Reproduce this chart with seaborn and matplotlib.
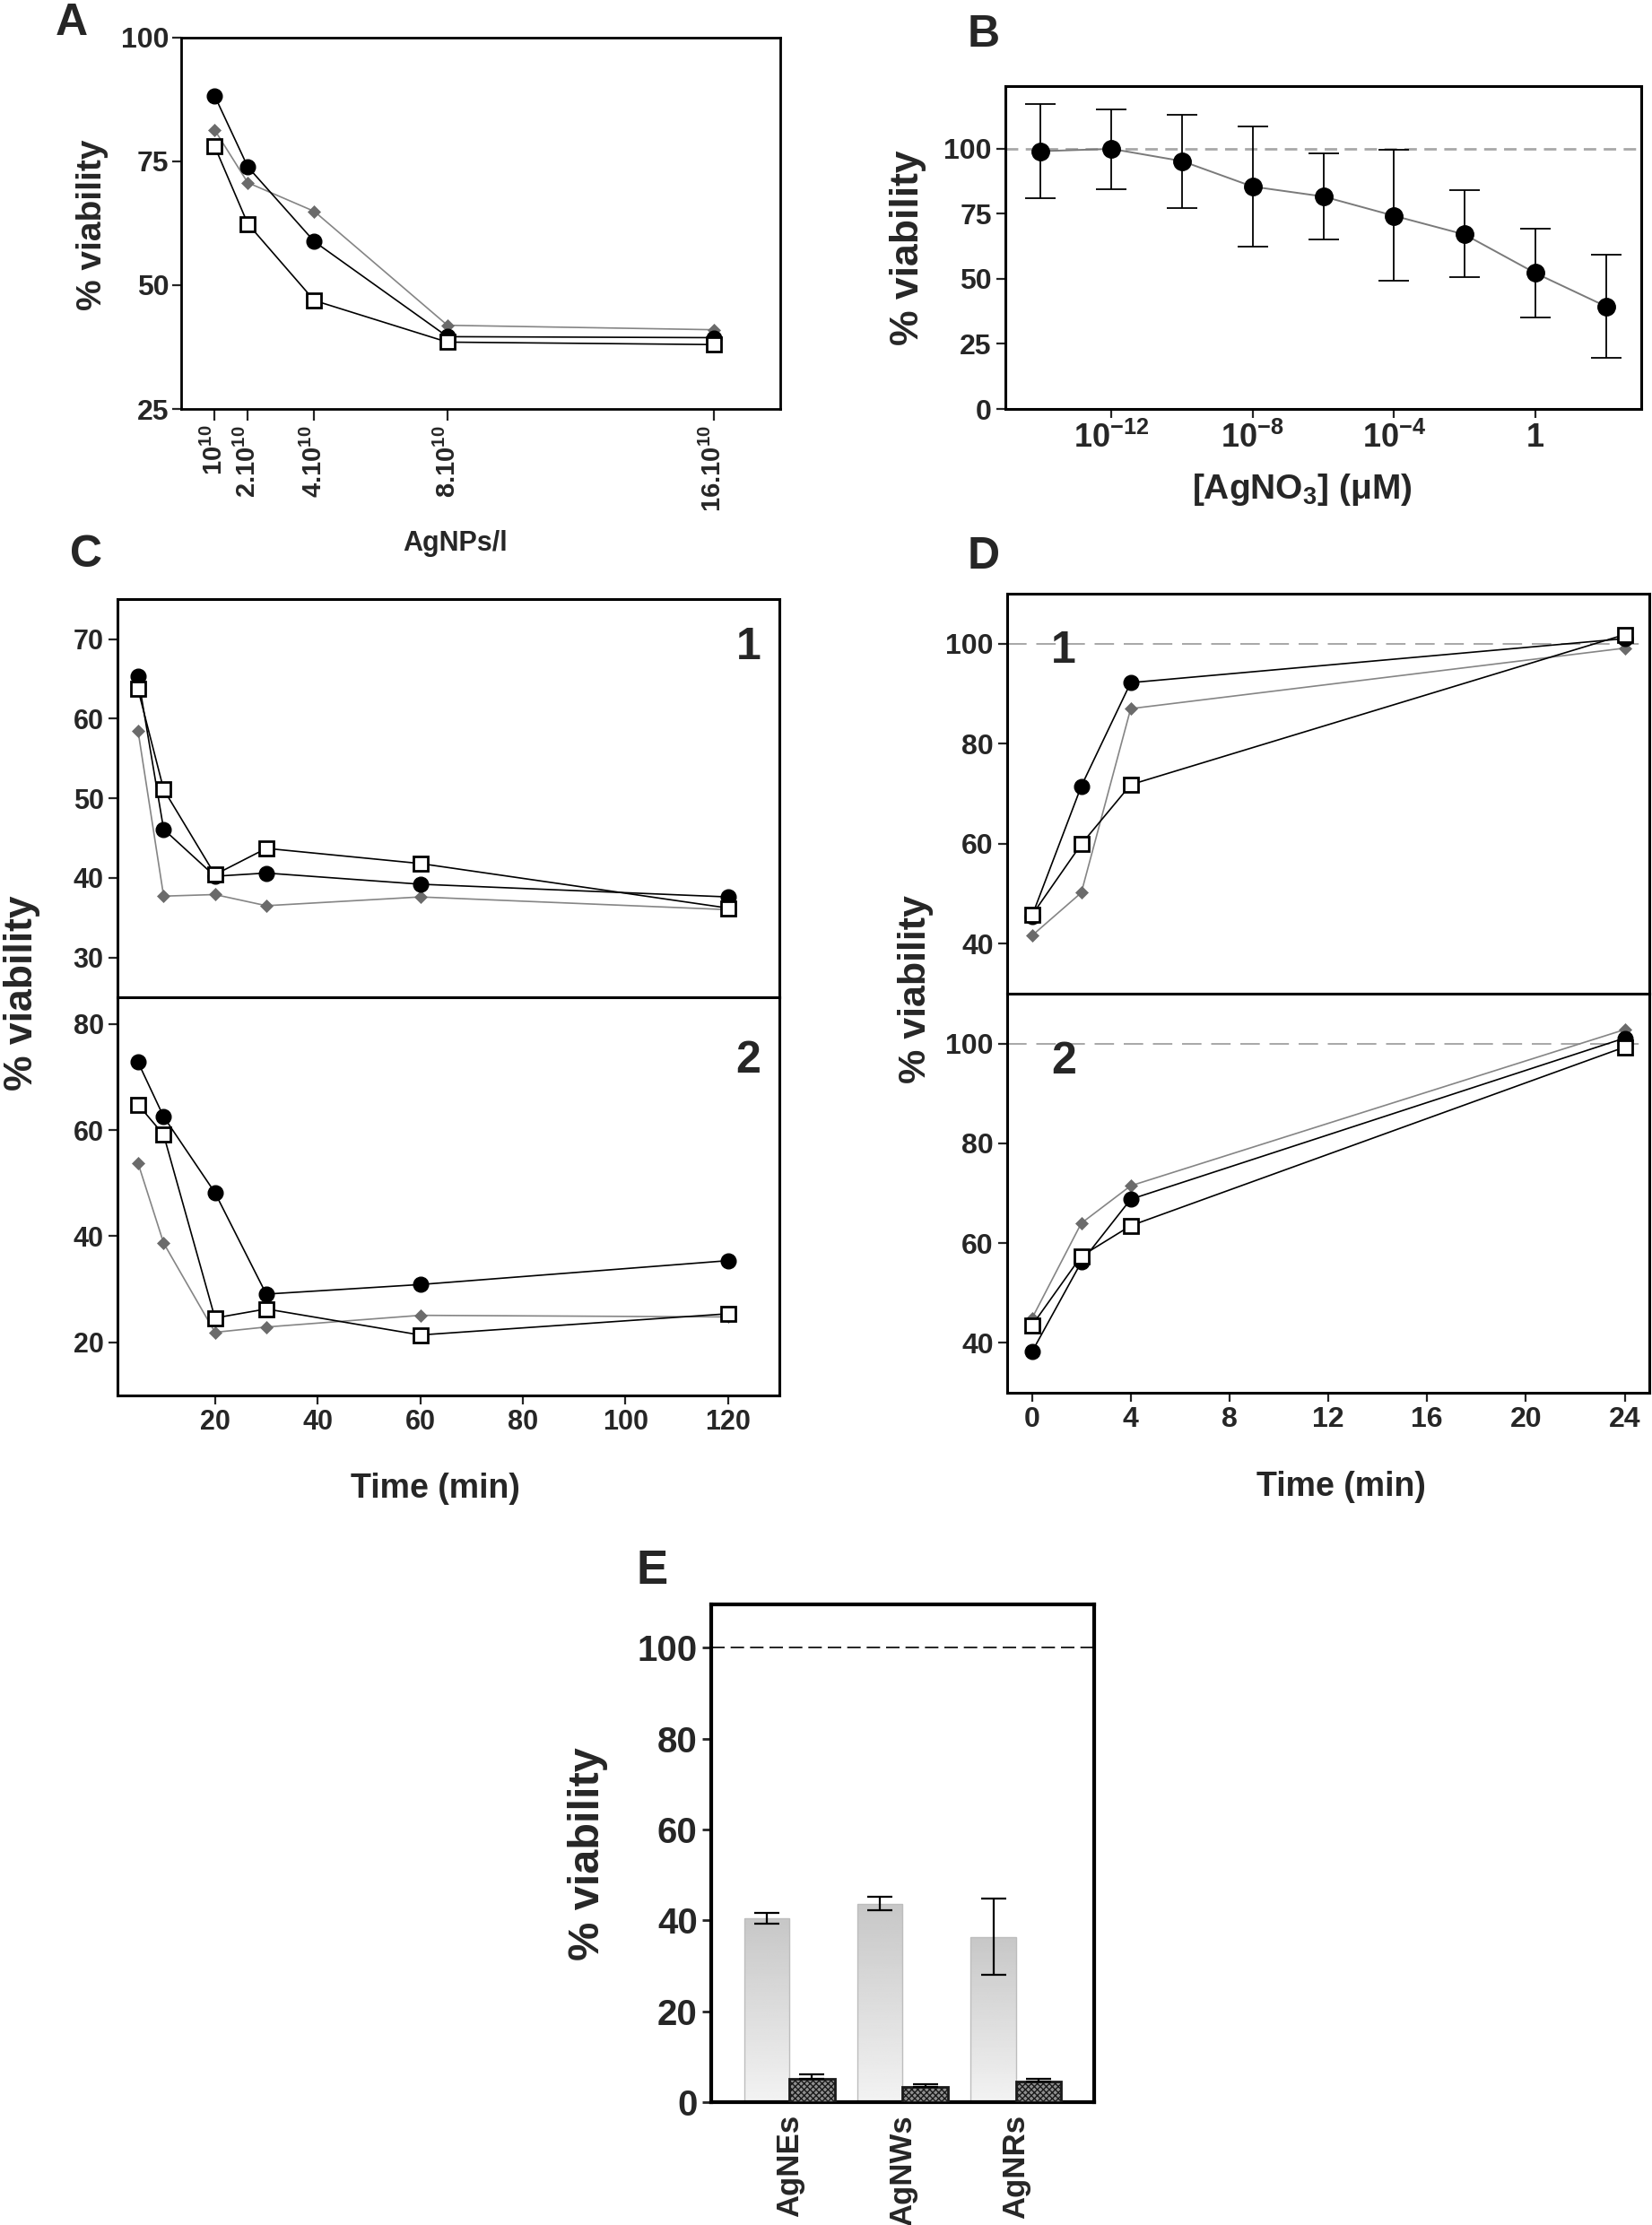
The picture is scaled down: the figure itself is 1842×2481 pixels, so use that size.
import numpy as np
import pandas as pd
import seaborn as sns
import matplotlib
matplotlib.use('Agg')
import matplotlib.pyplot as plt
from matplotlib import font_manager

sns.set_theme(style='ticks')
fams = {f.name for f in font_manager.fontManager.ttflist}
NARROW = 'Liberation Sans Narrow' if 'Liberation Sans Narrow' in fams else 'Liberation Sans'
plt.rcParams['font.family'] = ['Liberation Sans', 'DejaVu Sans']
plt.rcParams['mathtext.fontset'] = 'custom'
plt.rcParams['mathtext.rm'] = NARROW
plt.rcParams['mathtext.bf'] = NARROW + ':bold'
plt.rcParams['hatch.linewidth'] = 1.0

# ---- data A (AgNPs/l) ----
a_conc = [1, 2, 4, 8, 16]
a_labels = [r'$\mathbf{10^{10}}$', r'$\mathbf{2.10^{10}}$', r'$\mathbf{4.10^{10}}$',
            r'$\mathbf{8.10^{10}}$', r'$\mathbf{16.10^{10}}$']
a_circle = [88.3, 73.9, 58.8, 39.6, 39.4]
a_diamond = [81.4, 70.7, 64.9, 41.9, 41.0]
a_square = [78.1, 62.4, 46.9, 38.5, 38.0]

# ---- data B (AgNO3) ----
b_conc = [1e-14, 1e-12, 1e-10, 1e-8, 1e-6, 1e-4, 1e-2, 1e0, 1e2]
b_mean = [99.0, 99.9, 95.2, 85.4, 81.6, 74.2, 67.0, 52.2, 39.4]
b_low = [81.0, 84.5, 77.3, 62.3, 65.0, 49.4, 50.6, 35.3, 19.7]
b_high = [117.2, 114.9, 112.9, 108.5, 98.0, 99.4, 84.1, 69.1, 59.1]
b_ticks = [1e-12, 1e-8, 1e-4, 1]
b_ticklabels = [r'$\mathbf{10^{-12}}$', r'$\mathbf{10^{-8}}$', r'$\mathbf{10^{-4}}$', r'$\mathbf{1}$']

# ---- data C (time, min) ----
c_time = [5, 10, 20, 30, 60, 120]
c1_circle = [65.3, 46.1, 40.2, 40.6, 39.2, 37.6]
c1_square = [63.7, 51.1, 40.4, 43.7, 41.8, 36.2]
c1_diamond = [58.5, 37.7, 37.9, 36.5, 37.6, 36.0]
c2_circle = [72.8, 62.5, 48.2, 29.1, 30.9, 35.4]
c2_square = [64.8, 59.1, 24.6, 26.3, 21.4, 25.4]
c2_diamond = [53.8, 38.7, 21.9, 22.9, 25.1, 24.8]

# ---- data D (time) ----
d_time = [0, 2, 4, 24]
d1_circle = [45.5, 71.5, 92.2, 101.0]
d1_square = [45.7, 59.9, 71.8, 101.8]
d1_diamond = [41.6, 50.2, 87.0, 99.1]
d2_circle = [38.2, 56.2, 68.8, 101.1]
d2_square = [43.5, 57.4, 63.5, 99.3]
d2_diamond = [44.9, 64.0, 71.5, 102.8]

# ---- data E (bars) ----
e_cats = ['AgNEs', 'AgNWs', 'AgNRs']
e_light = [40.5, 43.7, 36.4]
e_light_err = [1.2, 1.5, 8.4]
e_dark = [5.2, 3.3, 4.5]
e_dark_err = [1.0, 0.6, 0.7]

styles = {
    'diamond': dict(marker='D', color='#858585', markerfacecolor='#6b6b6b',
                    markeredgecolor='#6b6b6b', markersize=7, markeredgewidth=0.5),
    'circle': dict(marker='o', color='black', markerfacecolor='black',
                   markeredgecolor='black', markersize=12, markeredgewidth=1),
    'square': dict(marker='s', color='black', markerfacecolor='white',
                   markeredgecolor='black', markersize=11, markeredgewidth=2),
}


def draw(ax, x, y, kind):
    sns.lineplot(x=x, y=y, ax=ax, linewidth=1.2, estimator=None, **styles[kind])


def boxify(ax, lw=2.2):
    for s in ax.spines.values():
        s.set_visible(True)
        s.set_linewidth(lw)
        s.set_color('black')


def bold_ticks(ax, size, family='Liberation Sans'):
    for lab in ax.get_xticklabels() + ax.get_yticklabels():
        lab.set_fontsize(size)
        lab.set_fontweight('bold')
        lab.set_family(family)


fig = plt.figure(figsize=(18.42, 24.81), dpi=100)

# ---------------- A ----------------
axA = fig.add_axes([0.1097, 0.8162, 0.3626, 0.1669])
draw(axA, a_conc, a_diamond, 'diamond')
draw(axA, a_conc, a_circle, 'circle')
draw(axA, a_conc, a_square, 'square')
axA.set_xlim(0, 18)
axA.set_ylim(25, 100)
axA.set_yticks([25, 50, 75, 100])
axA.set_xticks(a_conc)
axA.set_xticklabels(a_labels, rotation=90, fontsize=21)
axA.set_xlabel('')
axA.set_ylabel('')
boxify(axA, 2.0)
axA.tick_params(axis='y', direction='out', length=7, width=1.6, pad=3)
axA.tick_params(axis='x', direction='out', length=9, width=1.6, pad=4)
for lab in axA.get_yticklabels():
    lab.set_fontsize(23); lab.set_fontweight('bold'); lab.set_family(NARROW)

# ---------------- B ----------------
axB = fig.add_axes([0.6086, 0.8162, 0.3849, 0.1451])
axB.axhline(100, color='#a8a8a8', lw=2.0, ls=(0, (5, 3)), zorder=1)
sns.lineplot(x=b_conc, y=b_mean, ax=axB, color='#7a7a7a', linewidth=1.4, estimator=None, zorder=2)
b_err = [np.array(b_mean) - np.array(b_low), np.array(b_high) - np.array(b_mean)]
axB.errorbar(b_conc, b_mean, yerr=b_err, fmt='o', color='black', ms=14, ecolor='black',
             elinewidth=1.3, capsize=12, capthick=1.3, zorder=3)
axB.set_xscale('log')
axB.set_xlim(1e-15, 1e3)
axB.set_ylim(0, 124)
axB.set_yticks([0, 25, 50, 75, 100])
axB.set_xticks(b_ticks)
axB.set_xticklabels(b_ticklabels, fontsize=26)
axB.minorticks_off()
axB.set_xlabel('')
axB.set_ylabel('')
boxify(axB, 2.2)
axB.tick_params(direction='out', length=7, width=1.6, pad=4)
for lab in axB.get_yticklabels():
    lab.set_fontsize(23); lab.set_fontweight('bold'); lab.set_family(NARROW)

# ---------------- C ----------------
axC1 = fig.add_axes([0.0711, 0.5518, 0.4007, 0.1789])
axC2 = fig.add_axes([0.0711, 0.3728, 0.4007, 0.1790])
for ax, yc, ys, yd in [(axC1, c1_circle, c1_square, c1_diamond), (axC2, c2_circle, c2_square, c2_diamond)]:
    draw(ax, c_time, yd, 'diamond')
    draw(ax, c_time, yc, 'circle')
    draw(ax, c_time, ys, 'square')
    ax.set_xlim(1, 130)
    ax.set_xlabel('')
    ax.set_ylabel('')
    boxify(ax, 2.2)
    ax.tick_params(direction='out', length=7, width=1.6, pad=4)
axC1.set_ylim(25, 75)
axC1.set_yticks([30, 40, 50, 60, 70])
axC1.set_xticks([])
axC2.set_ylim(10, 85)
axC2.set_yticks([20, 40, 60, 80])
axC2.set_xticks([20, 40, 60, 80, 100, 120])
bold_ticks(axC1, 22)
bold_ticks(axC2, 22)
axC1.text(0.953, 0.878, '1', transform=axC1.transAxes, fontsize=36, fontweight='bold', ha='center', va='center')
axC2.text(0.953, 0.84, '2', transform=axC2.transAxes, fontsize=36, fontweight='bold', ha='center', va='center')

# ---------------- D ----------------
axD1 = fig.add_axes([0.6097, 0.5534, 0.3887, 0.1798])
axD2 = fig.add_axes([0.6097, 0.3740, 0.3887, 0.1794])
for ax, yc, ys, yd in [(axD1, d1_circle, d1_square, d1_diamond), (axD2, d2_circle, d2_square, d2_diamond)]:
    ax.axhline(100, color='#a0a0a0', lw=1.3, ls=(0, (12, 6)), zorder=1)
    draw(ax, d_time, yd, 'diamond')
    draw(ax, d_time, yc, 'circle')
    draw(ax, d_time, ys, 'square')
    ax.set_xlim(-1, 25)
    ax.set_ylim(30, 110)
    ax.set_yticks([40, 60, 80, 100])
    ax.set_xlabel('')
    ax.set_ylabel('')
    boxify(ax, 2.2)
    ax.tick_params(direction='out', length=7, width=1.6, pad=4)
axD1.set_xticks([])
axD2.set_xticks([0, 4, 8, 12, 16, 20, 24])
bold_ticks(axD1, 23)
bold_ticks(axD2, 23)
axD1.text(0.088, 0.856, '1', transform=axD1.transAxes, fontsize=36, fontweight='bold', ha='center', va='center')
axD2.text(0.088, 0.83, '2', transform=axD2.transAxes, fontsize=36, fontweight='bold', ha='center', va='center')

# ---------------- E ----------------
axE = fig.add_axes([0.4305, 0.0552, 0.2318, 0.2237])
e_df = pd.DataFrame({'cat': e_cats * 2,
                     'grp': ['light'] * 3 + ['dark'] * 3,
                     'val': e_light + e_dark})
sns.barplot(data=e_df, x='cat', y='val', hue='grp', ax=axE, errorbar=None,
            palette={'light': '#dddddd', 'dark': '#8f8f8f'}, saturation=1,
            width=0.8, legend=False)
axE.axhline(100, color='black', lw=1.2, ls=(0, (9, 4)), zorder=1)
grad = np.linspace(0.95, 0.78, 100).reshape(-1, 1)
for bar, err in zip(axE.containers[0], e_light_err):
    x0, w, h = bar.get_x(), bar.get_width(), bar.get_height()
    im = axE.imshow(grad, extent=(x0, x0 + w, 0, h), aspect='auto', cmap='gray',
                    vmin=0, vmax=1, origin='lower', zorder=1.5)
    im.set_clip_path(bar)
    bar.set_facecolor('none')
    bar.set_edgecolor('#bdbdbd')
    bar.set_linewidth(1)
    bar.set_zorder(2)
    axE.errorbar(x0 + w / 2, h, yerr=err, color='black', elinewidth=1.6,
                 capsize=10, capthick=1.6, zorder=4)
for bar, err in zip(axE.containers[1], e_dark_err):
    x0, w, h = bar.get_x(), bar.get_width(), bar.get_height()
    bar.set_hatch('xxxxx')
    bar.set_edgecolor('#1a1a1a')
    bar.set_linewidth(2)
    bar.set_zorder(3)
    axE.errorbar(x0 + w / 2, h, yerr=[[0], [err]], color='black', elinewidth=1.6,
                 capsize=10, capthick=1.6, zorder=4)
axE.set_xlim(-0.69, 2.69)
axE.set_ylim(0, 109.5)
axE.set_yticks([0, 20, 40, 60, 80, 100])
axE.set_xlabel('')
axE.set_ylabel('')
boxify(axE, 3.0)
axE.tick_params(axis='y', direction='out', length=7, width=2, pad=4)
axE.tick_params(axis='x', length=0, pad=10)
bold_ticks(axE, 29)
for lab in axE.get_xticklabels():
    lab.set_rotation(90)
    lab.set_fontsize(25)
    lab.set_va('top')

# ---------------- figure texts ----------------
fig.text(0.0559, 0.8988, '% viability', rotation=90, ha='center', va='center', fontsize=28, fontweight='bold')
fig.text(0.5496, 0.8888, '% viability', rotation=90, ha='center', va='center', fontsize=32, fontweight='bold')
fig.text(0.0135, 0.5538, '% viability', rotation=90, ha='center', va='center', fontsize=32, fontweight='bold')
fig.text(0.5543, 0.5554, '% viability', rotation=90, ha='center', va='center', fontsize=31, fontweight='bold')
fig.text(0.3556, 0.1668, '% viability', rotation=90, ha='center', va='center', fontsize=35, fontweight='bold')

fig.text(0.2758, 0.7557, 'AgNPs/l', ha='center', va='center', fontsize=22, fontweight='bold', family=NARROW)
fig.text(0.7883, 0.7799, r'[AgNO$_\mathregular{3}$] (μM)', ha='center', va='center', fontsize=28,
         fontweight='bold', family=[NARROW, 'DejaVu Sans'])
fig.text(0.2638, 0.3309, 'Time (min)', ha='center', va='center', fontsize=27, fontweight='bold')
fig.text(0.8116, 0.3317, 'Time (min)', ha='center', va='center', fontsize=27, fontweight='bold')

for txt, x, y, fs in [('A', 0.0434, 0.9895, 36), ('B', 0.5955, 0.9843, 36), ('C', 0.0521, 0.7505, 36),
                      ('D', 0.5955, 0.7497, 36), ('E', 0.3947, 0.2938, 38)]:
    fig.text(x, y, txt, ha='center', va='center', fontsize=fs, fontweight='bold')

fig.savefig('out.png', dpi=100)
